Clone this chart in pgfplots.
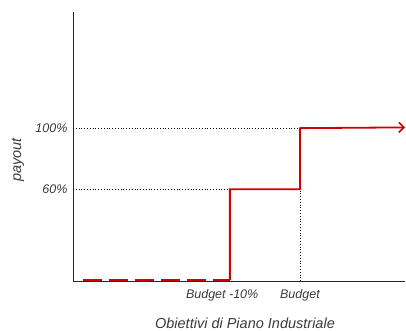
\documentclass[border=0pt]{standalone}
\usepackage{pgfplots}
\pgfplotsset{compat=1.18}
\usepackage{fontspec}
\setmainfont{Liberation Sans}
\usetikzlibrary{arrows.meta}
\definecolor{payred}{HTML}{D00000}
\definecolor{labgray}{HTML}{3A3A3A}

\begin{document}
\begin{tikzpicture}
\begin{axis}[
  scale only axis,
  width=332pt, height=269pt,
  xmin=67.6, xmax=115,
  ymin=0, ymax=176,
  axis lines=left,
  axis line style={-, line width=1pt, black!85},
  clip=false,
  xtick={88.9,100},
  xticklabels={Budget -10\%, Budget},
  ytick={60,100},
  yticklabels={60\%,100\%},
  major tick length=0pt,
  tick label style={font=\itshape\fontsize{12.5}{14}\selectfont, text=labgray},
  xticklabel style={yshift=-5pt},
  yticklabel style={xshift=-2pt},
  xlabel={Obiettivi di Piano Industriale},
  xlabel style={font=\itshape\fontsize{14.5}{16}\selectfont, text=labgray,
                at={(axis description cs:0.518,-0.157)}, anchor=center},
  ylabel={payout},
  ylabel style={font=\itshape\fontsize{14.5}{16}\selectfont, text=labgray,
                at={(axis description cs:-0.166,0.45)}, anchor=center, rotate=0},
]
  % guide lines
  \addplot[black, dotted, line width=0.8pt] coordinates {(67.6,100) (100,100)};
  \addplot[black, dotted, line width=0.8pt] coordinates {(67.6,60) (90,60)};
  \addplot[black, dotted, line width=0.8pt] coordinates {(100,0) (100,60)};
  % payout curve below threshold
  \addplot[payred, line width=1.8pt, dash pattern=on 19pt off 7pt] coordinates {(69,0.8) (90,0.8)};
  % payout steps
  \addplot[payred, line width=1.8pt, -{Straight Barb[length=5pt,width=10pt,line width=1.6pt]}]
    coordinates {(90,0.8) (90,60) (100,60) (100,100) (115,100.5)};
\end{axis}
\pgfresetboundingbox
\path (current axis.south west) ++(-73pt,-50pt) coordinate (bbA);
\path (current axis.north east) ++(1pt,12pt) coordinate (bbB);
\path (bbA) rectangle (bbB);
\end{tikzpicture}
\end{document}
